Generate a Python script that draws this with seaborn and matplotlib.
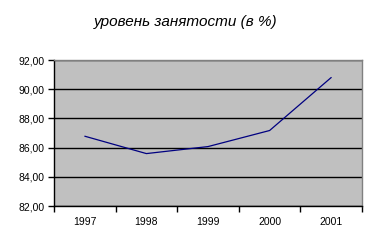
import matplotlib
matplotlib.use("Agg")
import matplotlib.pyplot as plt
import matplotlib.ticker as mticker
import seaborn as sns
import pandas as pd

years = ["1997", "1998", "1999", "2000", "2001"]
values = [86.78, 85.59, 86.07, 87.17, 90.80]
title = "уровень занятости (в %)"

sns.set_style("white")
plt.rcParams['font.family'] = ['Liberation Sans', 'DejaVu Sans']
plt.rcParams['text.color'] = 'black'

df = pd.DataFrame({"year": years, "value": values})

fig = plt.figure(figsize=(3.77, 2.47), dpi=100)
ax = fig.add_axes([54/377, 1-206/247, 308/377, 146/247])
ax.set_facecolor("#c0c0c0")
sns.lineplot(data=df, x="year", y="value", ax=ax, color="#000080", linewidth=0.9)

ax.set_xlim(-0.5, 4.5)
ax.set_ylim(82, 92)
ax.set_yticks([82, 84, 86, 88, 90, 92])
ax.yaxis.set_major_formatter(mticker.FuncFormatter(lambda v, p: f"{v:.2f}".replace(".", ",")))
ax.grid(axis="y", color="black", linewidth=1)
ax.set_axisbelow(True)
ax.set_xlabel("")
ax.set_ylabel("")

ax.set_xticks([-0.5, 0.5, 1.5, 2.5, 3.5, 4.5], minor=True)
ax.tick_params(axis="x", which="major", length=0, labelsize=7.5, pad=8, colors="black")
ax.tick_params(axis="x", which="minor", length=4, width=1, direction="out", color="black", bottom=True)
ax.tick_params(axis="y", which="major", length=4, width=1, direction="out", labelsize=7.5, pad=3, colors="black", left=True)

for s in ["left", "bottom"]:
    ax.spines[s].set_color("black")
    ax.spines[s].set_linewidth(1)
for s in ["top", "right"]:
    ax.spines[s].set_color("#808080")
    ax.spines[s].set_linewidth(1)

fig.text(186/377, 1-22/247, title, ha="center", va="center", fontsize=11, style="italic", color="black")

fig.savefig("out.png", dpi=100)
